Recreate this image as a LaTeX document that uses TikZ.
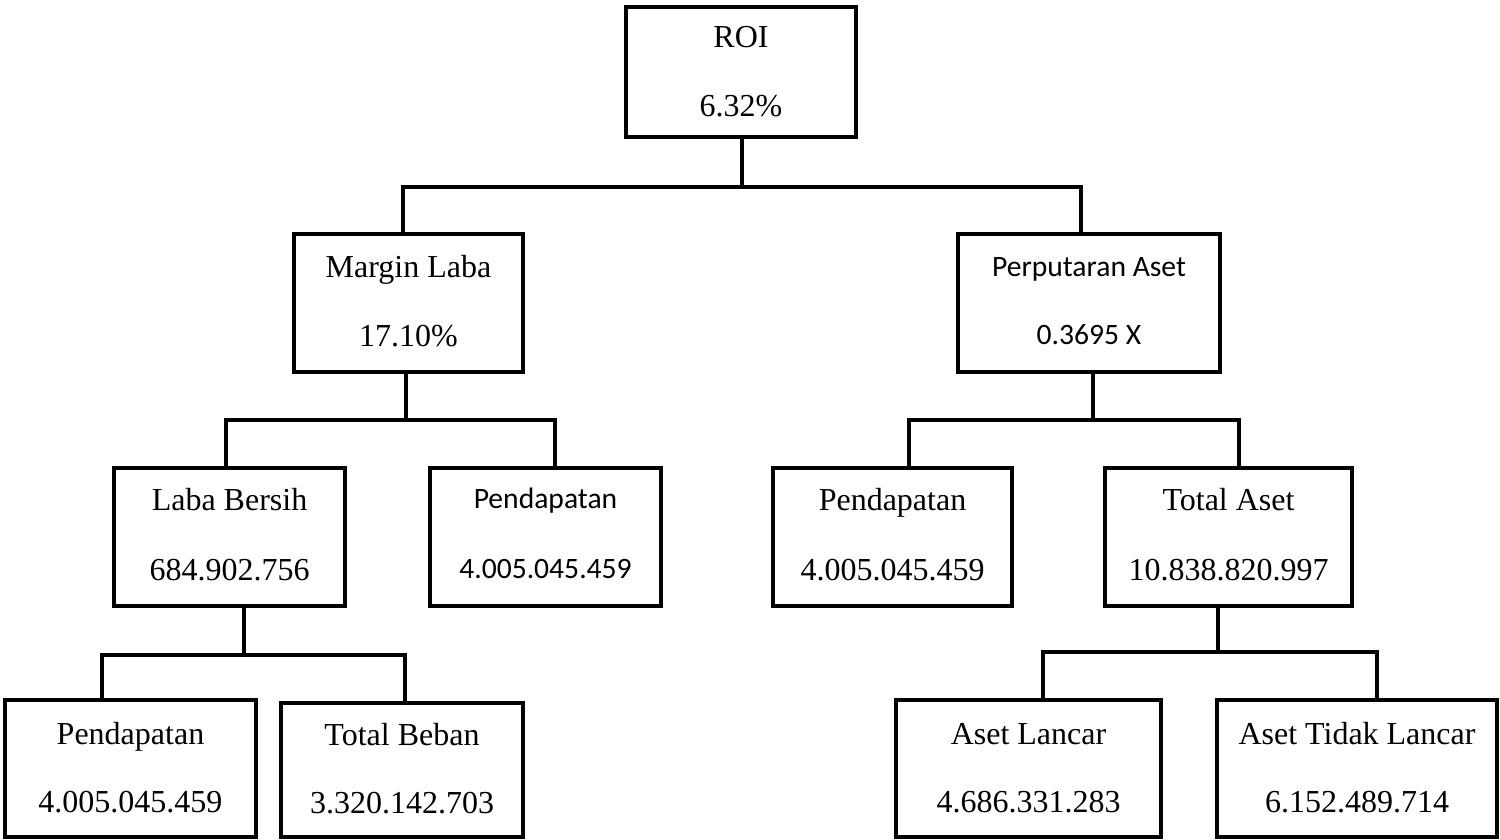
\documentclass[tikz,border=0pt]{standalone}
\usepackage{fontspec}
\setmainfont{Liberation Serif}
\newfontfamily\calfont{Carlito}
\begin{document}
\begin{tikzpicture}[x=0.5pt,y=-0.5pt,
  box/.style={draw=black, line width=2.3pt, rectangle, inner sep=0pt, fill=white},
  bx/.style 2 args={minimum width={#1*0.5pt}, minimum height={#2*0.5pt}},
  conn/.style={line width=2.3pt, line join=miter, line cap=rect},
  ser/.style={font=\fontsize{16}{19}\selectfont, inner sep=0pt, anchor=base},
  cal/.style={font=\calfont\fontsize{14.8}{17}\selectfont, inner sep=0pt, anchor=base}]
\useasboundingbox (0,0) rectangle (1500,840);

% boxes
\node[box, bx={230}{130}] (roi) at (741,72) {};
\node[box, bx={229}{138}] (ml)  at (408.5,303) {};
\node[box, bx={262}{138}] (pa)  at (1089,303) {};
\node[box, bx={231}{138}] (lb)  at (229.5,537) {};
\node[box, bx={231}{138}] (pdA) at (545.5,537) {};
\node[box, bx={239}{138}] (pdB) at (892.5,537) {};
\node[box, bx={247}{138}] (ta)  at (1228.5,537) {};
\node[box, bx={251}{137}] (pdC) at (130.5,768.5) {};
\node[box, bx={242}{134}] (tb)  at (402,770) {};
\node[box, bx={265}{137}] (al)  at (1028.5,768.5) {};
\node[box, bx={280}{137}] (atl) at (1357,768.5) {};

% texts
\node[ser] (roiT) at (741,48) {ROI};
\node[ser] (roiV) at (741,117) {6.32\%};
\node[ser] (mlT) at (408.5,277) {Margin Laba};
\node[ser] (mlV) at (408.5,346) {17.10\%};
\node[cal] (paT) at (1089,276) {Perputaran Aset};
\node[cal] (paV) at (1089,344) {0.3695 X};
\node[ser] (lbT) at (229.5,510) {Laba Bersih};
\node[ser] (lbV) at (229.5,580) {684.902.756};
\node[cal] (pdAT) at (545.5,508) {Pendapatan};
\node[cal] (pdAV) at (545.5,578) {4.005.045.459};
\node[ser] (pdBT) at (892.5,510) {Pendapatan};
\node[ser] (pdBV) at (892.5,580) {4.005.045.459};
\node[ser] (taT) at (1228.5,510) {Total Aset};
\node[ser] (taV) at (1228.5,580) {10.838.820.997};
\node[ser] (pdCT) at (130.5,744) {Pendapatan};
\node[ser] (pdCV) at (130.5,812) {4.005.045.459};
\node[ser] (tbT) at (402,745) {Total Beban};
\node[ser] (tbV) at (402,813) {3.320.142.703};
\node[ser] (alT) at (1028.5,744) {Aset Lancar};
\node[ser] (alV) at (1028.5,812) {4.686.331.283};
\node[ser] (atlT) at (1357,744) {Aset Tidak Lancar};
\node[ser] (atlV) at (1357,812) {6.152.489.714};

% junction coordinates
\coordinate (r0) at (742,187);
\coordinate (r1L) at (403,187);
\coordinate (r1R) at (1081,187);
\coordinate (m0) at (406,420);
\coordinate (m1L) at (226,420);
\coordinate (m1R) at (555,420);
\coordinate (p0) at (1093,420);
\coordinate (p1L) at (909,420);
\coordinate (p1R) at (1239,420);
\coordinate (l0) at (244,655);
\coordinate (l1L) at (102,655);
\coordinate (l1R) at (405,655);
\coordinate (t0) at (1218,652);
\coordinate (t1L) at (1043,652);
\coordinate (t1R) at (1377,652);

% connectors
\draw[conn] (r0 |- roi.south) -- (r0);
\draw[conn] (r1L |- ml.north) -- (r1L) -- (r1R) -- (r1R |- pa.north);

\draw[conn] (m0 |- ml.south) -- (m0);
\draw[conn] (m1L |- lb.north) -- (m1L) -- (m1R) -- (m1R |- pdA.north);

\draw[conn] (p0 |- pa.south) -- (p0);
\draw[conn] (p1L |- pdB.north) -- (p1L) -- (p1R) -- (p1R |- ta.north);

\draw[conn] (l0 |- lb.south) -- (l0);
\draw[conn] (l1L |- pdC.north) -- (l1L) -- (l1R) -- (l1R |- tb.north);

\draw[conn] (t0 |- ta.south) -- (t0);
\draw[conn] (t1L |- al.north) -- (t1L) -- (t1R) -- (t1R |- atl.north);
\end{tikzpicture}
\end{document}
